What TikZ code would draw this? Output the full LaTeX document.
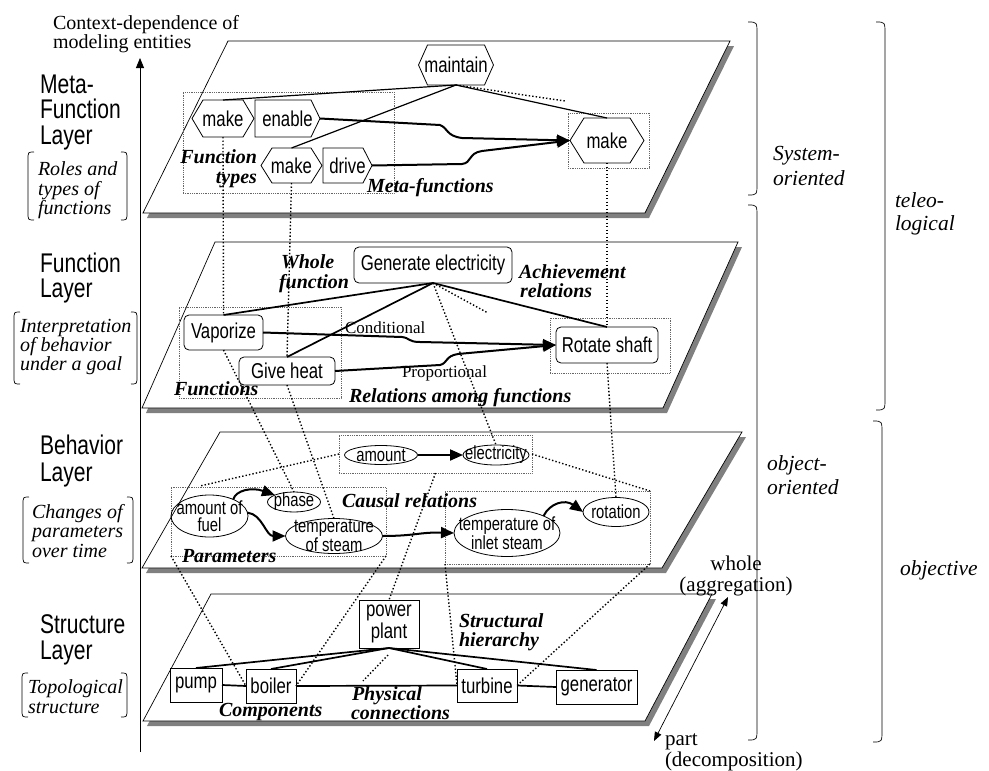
\documentclass[tikz,border=0pt]{standalone}
\usepackage{fontspec}
\setmainfont{Liberation Serif}
\newfontfamily\lsans[FakeStretch=0.78]{Liberation Sans}
\usetikzlibrary{arrows.meta,shapes.geometric}
\newcommand\FtNode{\lsans\fontsize{21.5pt}{22pt}\selectfont}
\newcommand\FtBeh{\lsans\fontsize{19pt}{17.5pt}\selectfont}
\newcommand\FtLab{\lsans\fontsize{27pt}{25pt}\selectfont}
\newcommand\FtBI{\bfseries\itshape\fontsize{20pt}{20pt}\selectfont}
\newcommand\FtIt{\itshape\fontsize{20pt}{19pt}\selectfont}
\newcommand\FtRt{\itshape\fontsize{21.5pt}{25pt}\selectfont}
\newcommand\FtSm{\fontsize{17pt}{17pt}\selectfont}
\newcommand\FtWh{\fontsize{21pt}{20pt}\selectfont}
\newcommand\FtTop{\fontsize{20pt}{20pt}\selectfont}
\tikzset{
  plane/.style={draw=black, line width=0.7pt, fill=white},
  pshadow/.style={fill=black!50, draw=none},
  shapeline/.style={draw=black, line width=0.8pt},
  lbl/.style={inner sep=0pt, outer sep=0pt},
  hexn/.style={inner sep=0pt, outer sep=0pt, font=\FtNode},
  rbox/.style={draw, line width=0.8pt, rounded corners=5pt, inner sep=0pt, outer sep=0pt, font=\FtNode},
  sbox/.style={draw, line width=0.8pt, inner sep=0pt, outer sep=0pt, font=\FtNode, align=center},
  ell/.style={draw, ellipse, line width=0.8pt, inner sep=0pt, outer sep=0pt},
  etext/.style={inner sep=0pt, font=\FtBeh, align=center},
  dbox/.style={draw=black!60, line width=0.6pt, dash pattern=on 0.7pt off 1.1pt, inner sep=0pt, outer sep=0pt},
  xdot/.style={line width=1.4pt, dash pattern=on 1.4pt off 2.1pt},
  rel/.style={line width=1.2pt},
  relb/.style={line width=1.7pt},
  arr/.style={line width=2pt, -{Triangle[length=13pt,width=11pt]}},
  brk/.style={line width=0.7pt},
}
\newcommand\hexdraw[2]{\draw[shapeline] (#1.west) -- ([xshift=#2pt]#1.north west) -- ([xshift=-#2pt]#1.north east) -- (#1.east) -- ([xshift=-#2pt]#1.south east) -- ([xshift=#2pt]#1.south west) -- cycle;}
\newcommand\pentdraw[2]{\draw[shapeline] (#1.north west) -- ([xshift=-#2pt]#1.north east) -- (#1.east) -- ([xshift=-#2pt]#1.south east) -- (#1.south west) -- cycle;}
\newcommand\layerplane[4]{\fill[pshadow] ([shift={(4,5)}]#1) -- ([shift={(4,5)}]#2) -- ([shift={(4,5)}]#3) -- ([shift={(4,5)}]#4) -- cycle;
  \draw[plane] (#1) -- (#2) -- (#3) -- (#4) -- cycle;}
\newcommand\lbrk[4]{\draw[brk] (#1+6,#2) .. controls (#1,#2) .. (#1,#2+8) -- (#1,#4-8) .. controls (#1,#4) .. (#1+6,#4);
  \draw[brk] (#3-6,#2) .. controls (#3,#2) .. (#3,#2+8) -- (#3,#4-8) .. controls (#3,#4) .. (#3-6,#4);}
\newcommand\rbrk[3]{\draw[brk] (#1-9,#2) .. controls (#1,#2) .. (#1,#2+12) -- (#1,#3-12) .. controls (#1,#3) .. (#1-9,#3);}
\begin{document}
\begin{tikzpicture}[x=1pt,y=-1pt]
\useasboundingbox (0,0) rectangle (989,771);

% ---------- planes ----------
\layerplane{228,41}{730,41}{645,213}{143,213}
\layerplane{215,242}{738,242}{663,408}{142,408}
\layerplane{220,432}{742,432}{662,568}{142,568}
\layerplane{211,594}{712,594}{645,721}{143,721}

% ---------- axis ----------
\coordinate (axB) at (140,752);
\coordinate (axT) at (140,58);
\draw[line width=0.8pt, -{Triangle[length=10pt,width=8pt]}] (axB) -- (axT);
\node[lbl, font=\FtTop, anchor=base west] (ctx1) at (53,29) {Context-dependence of};
\node[lbl, font=\FtTop, anchor=base west] (ctx2) at (53,48) {modeling entities};

% ---------- left labels ----------
\node[lbl, font=\FtLab, anchor=base west] (lmA1) at (40,93) {Meta-};
\node[lbl, font=\FtLab, anchor=base west] (lmA2) at (40,118.5) {Function};
\node[lbl, font=\FtLab, anchor=base west] (lmA3) at (40,144) {Layer};
\node[lbl, font=\FtLab, anchor=base west] (lfA1) at (40,272) {Function};
\node[lbl, font=\FtLab, anchor=base west] (lfA2) at (40,297.5) {Layer};
\node[lbl, font=\FtLab, anchor=base west] (lbA1) at (40,454) {Behavior};
\node[lbl, font=\FtLab, anchor=base west] (lbA2) at (40,481) {Layer};
\node[lbl, font=\FtLab, anchor=base west] (lsA1) at (40,633.5) {Structure};
\node[lbl, font=\FtLab, anchor=base west] (lsA2) at (40,659.5) {Layer};

\lbrk{28}{152}{127}{220}
\node[lbl, font=\FtIt, anchor=base west] (lmB1) at (38,175) {Roles and};
\node[lbl, font=\FtIt, anchor=base west] (lmB2) at (38,195) {types of};
\node[lbl, font=\FtIt, anchor=base west] (lmB3) at (38,214) {functions};
\lbrk{14}{312}{137}{384}
\node[lbl, font=\FtIt, anchor=base west] (lfB1) at (20,332) {Interpretation};
\node[lbl, font=\FtIt, anchor=base west] (lfB2) at (20,351) {of behavior};
\node[lbl, font=\FtIt, anchor=base west] (lfB3) at (20,370) {under a goal};
\lbrk{23}{497}{133}{563}
\node[lbl, font=\FtIt, anchor=base west] (lbB1) at (32,518) {Changes of};
\node[lbl, font=\FtIt, anchor=base west] (lbB2) at (32,537) {parameters};
\node[lbl, font=\FtIt, anchor=base west] (lbB3) at (32,557) {over time};
\lbrk{22}{673}{127}{717}
\node[lbl, font=\FtIt, anchor=base west] (lsB1) at (28,693) {Topological};
\node[lbl, font=\FtIt, anchor=base west] (lsB2) at (28,713) {structure};

% ---------- right brackets ----------
\rbrk{757}{22}{195}
\rbrk{757}{205}{740}
\rbrk{885}{22}{410}
\rbrk{882}{421}{742}
\node[lbl, font=\FtRt, anchor=base west] (rSys1) at (773,160) {System-};
\node[lbl, font=\FtRt, anchor=base west] (rSys2) at (773,185) {oriented};
\node[lbl, font=\FtRt, anchor=base west] (rTel1) at (895,207) {teleo-};
\node[lbl, font=\FtRt, anchor=base west] (rTel2) at (895,230) {logical};
\node[lbl, font=\FtRt, anchor=base west] (rObj1) at (767,470) {object-};
\node[lbl, font=\FtRt, anchor=base west] (rObj2) at (767,494) {oriented};
\node[lbl, font=\FtRt, anchor=base west] (rObv) at (900,575) {objective};

% ---------- whole / part ----------
\node[lbl, font=\FtWh, anchor=base] (wh1) at (736,570) {whole};
\node[lbl, font=\FtWh, anchor=base] (wh2) at (736,591) {(aggregation)};
\node[lbl, font=\FtWh, anchor=base west] (pt1) at (665,745) {part};
\node[lbl, font=\FtWh, anchor=base west] (pt2) at (665,766) {(decomposition)};
\coordinate (wTip) at (728,597);
\coordinate (pTip) at (654,741);
\draw[line width=0.7pt, {Triangle[length=9pt,width=7pt]}-{Triangle[length=9pt,width=7pt]}] (pTip) -- (wTip);

% ---------- dotted grouping boxes ----------
\node[dbox, minimum width=211pt, minimum height=101pt] (dbA) at (288.5,142.5) {};
\node[dbox, minimum width=81pt, minimum height=55pt] (dbB) at (608.5,140.5) {};
\node[dbox, minimum width=162pt, minimum height=91pt] (dbC) at (260,352.5) {};
\node[dbox, minimum width=120pt, minimum height=55pt] (dbD) at (610,345.5) {};
\node[dbox, minimum width=193pt, minimum height=38pt] (dbE) at (435.5,454) {};
\node[dbox, minimum width=215pt, minimum height=69pt] (dbF) at (278.5,521.5) {};
\node[dbox, minimum width=205pt, minimum height=73pt] (dbG) at (547.5,527.5) {};

% ---------- meta-function layer ----------
\node[hexn, minimum width=75pt, minimum height=40pt] (maint) at (456,65) {maintain};
\node[hexn, minimum width=62pt, minimum height=37pt] (mkA) at (223,118.5) {make};
\node[hexn, minimum width=65pt, minimum height=37pt] (enab) at (287.5,118.5) {enable};
\node[hexn, minimum width=61pt, minimum height=35pt] (mkB) at (291.5,165.5) {make};
\node[hexn, minimum width=49pt, minimum height=35pt] (driv) at (347.5,165.5) {drive};
\node[hexn, minimum width=74pt, minimum height=45pt] (mkC) at (607,140.5) {make};
\hexdraw{maint}{9}
\hexdraw{mkA}{11}
\hexdraw{mkB}{11}
\hexdraw{mkC}{14}
\pentdraw{enab}{9}
\pentdraw{driv}{9}
\node[lbl, font=\FtBI, anchor=base east] (lbFT1) at (257,163) {Function};
\node[lbl, font=\FtBI, anchor=base east] (lbFT2) at (257,183) {types};
\node[lbl, font=\FtBI, anchor=base west] (lbMF) at (367,192) {Meta-functions};

% ---------- function layer ----------
\node[rbox, minimum width=158pt, minimum height=36pt] (gen) at (433,265) {Generate electricity};
\node[rbox, minimum width=79pt, minimum height=35pt] (vap) at (223.5,332.5) {Vaporize};
\node[rbox, minimum width=96pt, minimum height=28pt] (heat) at (287,371) {Give heat};
\node[rbox, minimum width=102pt, minimum height=36pt] (rot) at (607,345) {Rotate shaft};
\node[lbl, font=\FtBI, anchor=base west] (lbWF1) at (281,268) {Whole};
\node[lbl, font=\FtBI, anchor=base west] (lbWF2) at (279,288) {function};
\node[lbl, font=\FtBI, anchor=base west] (lbAR1) at (519,278) {Achievement};
\node[lbl, font=\FtBI, anchor=base west] (lbAR2) at (520,297) {relations};
\node[lbl, font=\FtSm, anchor=base west] (lbCon) at (345,333) {Conditional};
\node[lbl, font=\FtSm, anchor=base west] (lbPro) at (402,377) {Proportional};
\node[lbl, font=\FtBI, anchor=base west] (lbFn) at (174,395) {Functions};
\node[lbl, font=\FtBI, anchor=base west] (lbRF) at (349,402) {Relations among functions};

% ---------- behavior layer ----------
\node[ell, minimum width=73pt, minimum height=19pt] (amt) at (381,455) {};
\node[etext] (amtT) at (amt) {amount};
\node[ell, minimum width=66pt, minimum height=20pt] (elec) at (496,455) {};
\node[etext] (elecT) at (elec) {electricity};
\node[ell, minimum width=77pt, minimum height=42pt] (fuel) at (209.5,516) {};
\node[etext] (fuelT) at (fuel) {amount of\\fuel};
\node[ell, minimum width=53pt, minimum height=20pt] (phase) at (294,502) {};
\node[etext] (phaseT) at (phase) {phase};
\node[ell, minimum width=97pt, minimum height=35pt] (tst) at (334,536) {};
\node[etext] (tstT) at (tst) {temperature\\of steam};
\node[ell, minimum width=106pt, minimum height=47pt] (inl) at (507,533) {};
\node[etext] (inlT) at (inl) {temperature of\\inlet steam};
\node[ell, minimum width=66pt, minimum height=29pt] (rotn) at (616,512) {};
\node[etext] (rotnT) at (rotn) {rotation};
\node[lbl, font=\FtBI, anchor=base west] (lbCR) at (342,507) {Causal relations};
\node[lbl, font=\FtBI, anchor=base west] (lbPa) at (182,562) {Parameters};

% ---------- structure layer ----------
\node[sbox, minimum width=60pt, minimum height=48pt] (pp) at (389,624) {power\\plant};
\node[sbox, minimum width=52pt, minimum height=34pt] (pump) at (196,685) {pump};
\node[sbox, minimum width=50pt, minimum height=34pt] (boiler) at (271,686) {boiler};
\node[sbox, minimum width=60pt, minimum height=33pt] (turb) at (487,685.5) {turbine};
\node[sbox, minimum width=81pt, minimum height=34pt] (genr) at (596.5,687) {generator};
\node[lbl, font=\FtBI, anchor=base west] (lbSH1) at (459,627) {Structural};
\node[lbl, font=\FtBI, anchor=base west] (lbSH2) at (459,646) {hierarchy};
\node[lbl, font=\FtBI, anchor=base west] (lbCo) at (219,716) {Components};
\node[lbl, font=\FtBI, anchor=base west] (lbPC1) at (352,700) {Physical};
\node[lbl, font=\FtBI, anchor=base west] (lbPC2) at (351,719) {connections};

% ---------- dotted correspondences ----------
\coordinate (stubM) at (565,101);
\coordinate (stubF) at (488,313);
\coordinate (stubB) at (200,486);
\coordinate (stubS1) at (388,655);
\coordinate (stubS2) at (363,681);
\draw[xdot] (maint.south) -- (stubM);
\draw[xdot] (gen.south) -- (stubF);
\draw[xdot] (mkA.south) -- (vap.north);
\draw[xdot] (mkB.south) -- (heat.north);
\draw[xdot] (mkC.south) -- (rot.north);
\draw[xdot] (vap.south) -- (phase.north);
\draw[xdot] (heat.south) -- (tst.north);
\draw[xdot] (gen.south) -- (elec.north);
\draw[xdot] (rot.south) -- (rotn.north);
\draw[xdot] (dbE.west) -- (stubB);
\draw[xdot] (dbE.east) -- (dbG.north east);
\draw[xdot] (dbF.south west) -- (boiler.west);
\draw[xdot] (dbF.south east) -- (boiler.east);
\draw[xdot] (dbE.south) -- (pp.north);
\draw[xdot] (dbG.south west) -- (turb.west);
\draw[xdot] (dbG.south east) -- (turb.east);
\draw[xdot] (stubS1) -- (stubS2);

% ---------- hierarchy lines ----------
\draw[rel] (maint.south) -- (mkA.north);
\draw[rel] (maint.south) -- (mkB.north);
\draw[rel] (maint.south) -- (mkC.north);
\draw[relb] (gen.south) -- (vap.north);
\draw[relb] (gen.south) -- (heat.north);
\draw[relb] (gen.south) -- (rot.north);
\draw[relb] (pp.south) -- (pump.north);
\draw[relb] (pp.south) -- (boiler.north);
\draw[relb] (pp.south) -- (turb.north);
\draw[relb] (pp.south) -- (genr.north);
\draw[relb] (pump.east) -- (boiler.west);
\draw[relb] (boiler.east) -- (turb.west);
\draw[relb] (turb.east) -- (genr.west);

% ---------- arrows ----------
\draw[arr] (enab.east) -- (440,125) .. controls (448,128) and (446,136) .. (462,138) -- (mkC.west);
\draw[arr] (driv.east) -- (462,164) .. controls (472,163) and (468,153) .. (482,151) -- (mkC.west);
\draw[arr] (vap.east) -- (402,337) .. controls (410,338) and (408,342) .. (420,342) -- (rot.west);
\draw[arr] (heat.east) -- (440,365) .. controls (448,363) and (445,356) .. (458,354) -- (rot.west);
\draw[arr] (amt.east) -- (elec.west);
\draw[arr] (fuel.35) .. controls (236,490) and (252,487) .. (phase.160);
\draw[arr] (fuel.5) .. controls (262,514) and (266,536) .. (tst.west);
\draw[arr] (tst.east) .. controls (415,536) and (420,532) .. (inl.west);
\draw[arr] (inl.25) .. controls (550,503) and (565,499) .. (rotn.west);
\end{tikzpicture}
\end{document}
